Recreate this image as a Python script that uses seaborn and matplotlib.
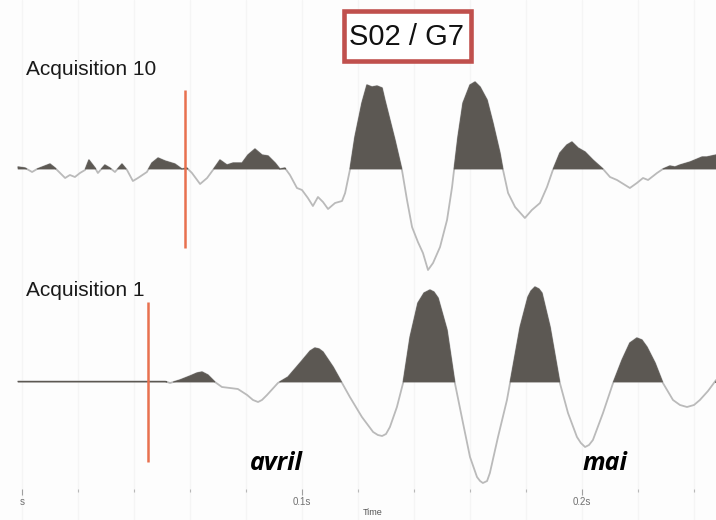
import numpy as np
import matplotlib
matplotlib.use("Agg")
import matplotlib.pyplot as plt
from matplotlib.patches import Rectangle
from matplotlib.ticker import FixedLocator, MultipleLocator, FixedFormatter
import seaborn as sns

# ---- data -------------------------------------------------------------
# Trace of acquisition 10 (time in s, normalised amplitude)
acq10_time = [-0.0014, 0.0011, 0.0036, 0.0054, 0.0100, 0.0118, 0.0136, 0.0154,
              0.0171, 0.0189, 0.0207, 0.0225, 0.0239, 0.0261, 0.0271, 0.0296,
              0.0314, 0.0332, 0.0357, 0.0375, 0.0396, 0.0414, 0.0446, 0.0464,
              0.0486, 0.0511, 0.0546, 0.0571, 0.0589, 0.0607, 0.0636, 0.0661,
              0.0682, 0.0707, 0.0732, 0.0754, 0.0786, 0.0807, 0.0832, 0.0857,
              0.0879, 0.0904, 0.0921, 0.0939, 0.0957, 0.0982, 0.1000, 0.1021,
              0.1039, 0.1057, 0.1075, 0.1093, 0.1118, 0.1143, 0.1154, 0.1171,
              0.1189, 0.1214, 0.1232, 0.1250, 0.1268, 0.1286, 0.1296, 0.1314,
              0.1332, 0.1357, 0.1375, 0.1393, 0.1414, 0.1432, 0.1450, 0.1468,
              0.1493, 0.1518, 0.1536, 0.1543, 0.1557, 0.1575, 0.1600, 0.1618,
              0.1636, 0.1661, 0.1682, 0.1707, 0.1718, 0.1736, 0.1761, 0.1796,
              0.1821, 0.1850, 0.1875, 0.1896, 0.1921, 0.1946, 0.1964, 0.1986,
              0.2011, 0.2039, 0.2075, 0.2100, 0.2125, 0.2171, 0.2196, 0.2218,
              0.2236, 0.2268, 0.2289, 0.2314, 0.2332, 0.2350, 0.2386, 0.2429,
              0.2446, 0.2479]
acq10_amp = [0.02, 0.01, -0.03, 0.00, 0.05, 0.01, -0.04, -0.09,
             -0.06, -0.08, -0.04, -0.01, 0.09, 0.01, -0.04, 0.04,
             0.01, -0.03, 0.05, -0.01, -0.12, -0.09, -0.03, 0.06,
             0.11, 0.08, 0.05, 0.00, 0.01, -0.04, -0.15, -0.09,
             -0.01, 0.09, 0.04, 0.06, 0.06, 0.14, 0.20, 0.14,
             0.13, 0.06, 0.00, 0.01, -0.06, -0.19, -0.21, -0.29,
             -0.37, -0.28, -0.33, -0.40, -0.34, -0.32, -0.24, -0.01,
             0.32, 0.66, 0.84, 0.82, 0.83, 0.81, 0.69, 0.49,
             0.29, -0.01, -0.31, -0.58, -0.73, -0.84, -1.01, -0.94,
             -0.78, -0.51, -0.18, -0.01, 0.32, 0.66, 0.84, 0.87,
             0.82, 0.69, 0.46, 0.16, -0.01, -0.24, -0.38, -0.49,
             -0.41, -0.34, -0.18, -0.01, 0.16, 0.24, 0.27, 0.21,
             0.17, 0.09, 0.00, -0.08, -0.11, -0.19, -0.14, -0.09,
             -0.11, -0.04, 0.00, 0.03, 0.02, 0.04, 0.07, 0.12,
             0.12, 0.14]

# Trace of acquisition 1
acq1_time = [-0.0014, 0.0100, 0.0243, 0.0386, 0.0511, 0.0529, 0.0564, 0.0600,
             0.0625, 0.0643, 0.0664, 0.0689, 0.0714, 0.0743, 0.0771, 0.0804,
             0.0825, 0.0843, 0.0857, 0.0875, 0.0914, 0.0950, 0.0993, 0.1029,
             0.1046, 0.1061, 0.1075, 0.1111, 0.1143, 0.1171, 0.1214, 0.1254,
             0.1271, 0.1286, 0.1300, 0.1314, 0.1339, 0.1361, 0.1386, 0.1414,
             0.1436, 0.1457, 0.1471, 0.1486, 0.1518, 0.1546, 0.1575, 0.1600,
             0.1625, 0.1636, 0.1646, 0.1661, 0.1671, 0.1700, 0.1732, 0.1743,
             0.1779, 0.1807, 0.1818, 0.1832, 0.1846, 0.1857, 0.1886, 0.1921,
             0.1950, 0.1982, 0.1996, 0.2011, 0.2025, 0.2039, 0.2075, 0.2111,
             0.2143, 0.2171, 0.2196, 0.2214, 0.2232, 0.2261, 0.2289, 0.2325,
             0.2350, 0.2375, 0.2400, 0.2421, 0.2450, 0.2479]
acq1_amp = [0.006, 0.006, 0.006, 0.006, 0.006, -0.01, 0.02, 0.06,
            0.09, 0.10, 0.07, 0.00, -0.05, -0.06, -0.07, -0.13,
            -0.18, -0.20, -0.18, -0.13, -0.01, 0.05, 0.19, 0.31,
            0.34, 0.33, 0.30, 0.15, -0.01, -0.15, -0.35, -0.50,
            -0.53, -0.54, -0.52, -0.45, -0.25, -0.01, 0.45, 0.79,
            0.89, 0.92, 0.90, 0.84, 0.52, -0.01, -0.41, -0.75,
            -0.95, -0.99, -1.01, -0.99, -0.91, -0.55, -0.18, -0.01,
            0.55, 0.85, 0.91, 0.95, 0.93, 0.89, 0.55, -0.01,
            -0.31, -0.55, -0.61, -0.65, -0.63, -0.58, -0.31, -0.01,
            0.22, 0.39, 0.44, 0.42, 0.35, 0.19, -0.01, -0.18,
            -0.23, -0.25, -0.23, -0.18, -0.09, 0.02]

trace_names = ["Acquisition 10", "Acquisition 1"]
trace_baselines = [3.51, 1.38]          # vertical offset of each trace
trace_label_heights = [1.00, 0.92]      # label position above each baseline
pick_times = [0.0582, 0.0450]           # picked first-break time per trace
pick_half_height = [0.79, 0.80]

tick_major = [0.0, 0.1, 0.2]
tick_major_labels = ["s", "0.1s", "0.2s"]
month_labels = ["avril", "mai"]
month_label_times = [0.0907, 0.2082]

title_text = "S02 / G7"

# ---- style ------------------------------------------------------------
sns.set_theme(style="white")
plt.rcParams["font.family"] = ["Liberation Sans", "DejaVu Sans"]

FILL = "#5c5853"
LINE = "#bababa"
PICK = "#e8714f"

fig = plt.figure(figsize=(7.16, 5.2), dpi=100)
fig.patch.set_facecolor("#fdfdfd")
ax = fig.add_axes([0, 0, 1, 1])
ax.set_facecolor("#fdfdfd")
ax.set_xlim(-0.00786, 0.24786)
ax.set_ylim(0, 5.2)

# faint vertical grid at each time tick
ax.xaxis.set_major_locator(FixedLocator(tick_major))
ax.xaxis.set_major_formatter(FixedFormatter(tick_major_labels))
ax.xaxis.set_minor_locator(MultipleLocator(0.02))
ax.grid(axis="x", which="both", color="#f5f5f5", lw=0.9)
ax.set_axisbelow(True)

for t_vals, a_vals, base in [(acq10_time, acq10_amp, trace_baselines[0]),
                             (acq1_time, acq1_amp, trace_baselines[1])]:
    t_arr = np.asarray(t_vals)
    a_arr = np.asarray(a_vals)
    y_arr = base + a_arr
    sns.lineplot(x=t_arr, y=y_arr, ax=ax, color=LINE, lw=1.3,
                 sort=False, estimator=None, zorder=2)
    ax.fill_between(t_arr, base, y_arr, where=a_arr > 0, interpolate=True,
                    facecolor=FILL, edgecolor=FILL, lw=0.6, zorder=3)

# picked times
ax.vlines(pick_times,
          [b - h for b, h in zip(trace_baselines, pick_half_height)],
          [b + h for b, h in zip(trace_baselines, pick_half_height)],
          color=PICK, lw=1.8, zorder=4)

# trace labels
for name, base, dh in zip(trace_names, trace_baselines, trace_label_heights):
    ax.text(0.0014, base + dh, name, fontsize=15, color="#1a1a1a",
            ha="left", va="center")

# month annotations
for lab, t in zip(month_labels, month_label_times):
    ax.text(t, 0.56, lab, fontsize=18, fontweight="bold", fontstyle="italic",
            family=["Open Sans", "DejaVu Sans"], color="black",
            ha="center", va="center")

# time axis
ax.spines["bottom"].set_position(("data", 0.31))
for side in ["top", "right", "left", "bottom"]:
    ax.spines[side].set_visible(False)
ax.tick_params(axis="x", which="major", direction="out", length=4, width=0.8,
               color="#a0a0a0", labelsize=7, labelcolor="#707070", pad=2,
               bottom=True)
ax.tick_params(axis="x", which="minor", direction="out", length=2.5, width=0.8,
               color="#b8b8b8", bottom=True)
ax.tick_params(axis="y", left=False, labelleft=False)
ax.text(0.52, 0.006, "Time", transform=ax.transAxes, fontsize=6.5,
        color="#555555", ha="center", va="bottom")

# title box
fig.patches.append(Rectangle((344 / 716, 1 - 61 / 520), 127 / 716, 50 / 520,
                             transform=fig.transFigure, facecolor="white",
                             edgecolor="#c0504d", lw=3.3, zorder=5))
fig.text(406 / 716, 1 - 37 / 520, title_text, fontsize=21, color="#111111",
         ha="center", va="center", zorder=6)

fig.savefig("out.png", dpi=100, facecolor=fig.get_facecolor())
